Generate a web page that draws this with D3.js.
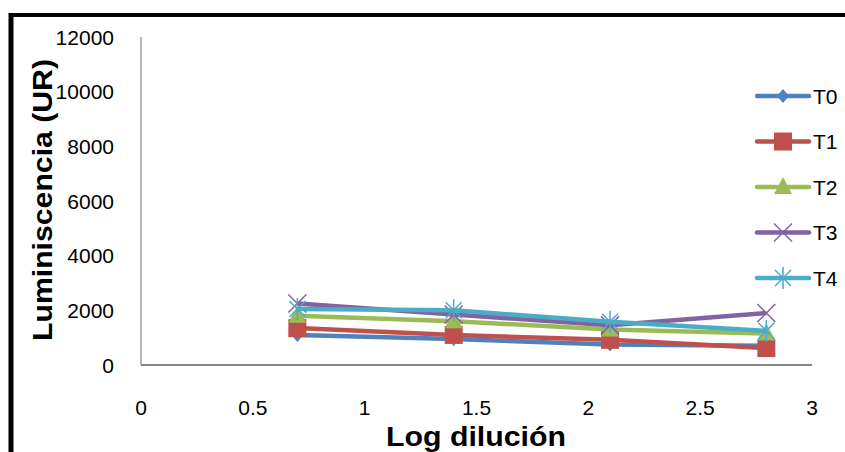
<!DOCTYPE html>
<html><head><meta charset="utf-8">
<script src="https://cdn.jsdelivr.net/npm/d3@7"></script>
<style>
html,body{margin:0;padding:0;background:#fff;}
text{font-family:"Liberation Sans",Arial,sans-serif;}
</style></head>
<body>
<svg id="c" width="845" height="452"></svg>
<script>
const xValues = [0.699, 1.398, 2.097, 2.796];
const seriesNames = ["T0","T1","T2","T3","T4"];
const T0 = [1100, 950, 750, 700];
const T1 = [1350, 1100, 920, 620];
const T2 = [1800, 1600, 1300, 1150];
const T3 = [2250, 1850, 1450, 1900];
const T4 = [2050, 2000, 1580, 1250];
const xTicks = [0, 0.5, 1, 1.5, 2, 2.5, 3];
const yTicks = [0, 2000, 4000, 6000, 8000, 10000, 12000];
const colors = ["#4F81BD","#C0504D","#9BBB59","#8064A2","#4BACC6"];
const markers = ["diamond","square","triangle","x","star"];
const series = [T0,T1,T2,T3,T4];

const svg = d3.select("#c");
// frame
svg.append("rect").attr("x",0).attr("y",0).attr("width",845).attr("height",452).attr("fill","#fff");
svg.append("line").attr("x1",9).attr("x2",845).attr("y1",15).attr("y2",15).attr("stroke","#000").attr("stroke-width",4);
svg.append("line").attr("x1",11).attr("x2",11).attr("y1",13).attr("y2",452).attr("stroke","#000").attr("stroke-width",5);

const x = d3.scaleLinear().domain([0,3]).range([141,812]);
const y = d3.scaleLinear().domain([0,12000]).range([365,37]);

// axes lines
svg.append("line").attr("x1",141).attr("x2",141).attr("y1",y(12000)).attr("y2",y(0)).attr("stroke","#868686").attr("stroke-width",1.2);
svg.append("line").attr("x1",141).attr("x2",x(3)).attr("y1",y(0)).attr("y2",y(0)).attr("stroke","#868686").attr("stroke-width",2);

// tick labels
svg.selectAll(".yt").data(yTicks).enter().append("text")
  .attr("x",114).attr("y",d=>y(d)).attr("dy","0.36em").attr("text-anchor","end")
  .attr("font-size",21).attr("fill","#000").text(d=>d);
svg.selectAll(".xt").data(xTicks).enter().append("text")
  .attr("x",d=>x(d)).attr("y",407).attr("dy","0.36em").attr("text-anchor","middle")
  .attr("font-size",21).attr("fill","#000").text(d=>d);

// titles
svg.append("text").attr("transform","translate(42,200) rotate(-90)").attr("text-anchor","middle")
  .attr("dy","0.36em").attr("font-size",27).attr("font-weight","bold")
  .attr("textLength",282).attr("lengthAdjust","spacingAndGlyphs").text("Luminiscencia (UR)");
svg.append("text").attr("x",476).attr("y",436).attr("text-anchor","middle")
  .attr("dy","0.36em").attr("font-size",27).attr("font-weight","bold")
  .attr("textLength",180).attr("lengthAdjust","spacingAndGlyphs").text("Log dilución");

function drawMarker(g, type, cx, cy, color){
  if(type==="diamond"){
    g.append("path").attr("d",`M${cx},${cy-7}L${cx+6},${cy}L${cx},${cy+7}L${cx-6},${cy}Z`).attr("fill",color);
  } else if(type==="square"){
    g.append("rect").attr("x",cx-9).attr("y",cy-9).attr("width",18).attr("height",18).attr("fill",color);
  } else if(type==="triangle"){
    g.append("path").attr("d",`M${cx},${cy-10}L${cx+9},${cy+7}L${cx-9},${cy+7}Z`).attr("fill",color);
  } else if(type==="x"){
    g.append("path").attr("d",`M${cx-9},${cy-9}L${cx+9},${cy+9}M${cx-9},${cy+9}L${cx+9},${cy-9}`).attr("stroke",color).attr("stroke-width",1.5).attr("fill","none");
  } else if(type==="star"){
    g.append("path").attr("d",`M${cx-8},${cy-8}L${cx+8},${cy+8}M${cx-8},${cy+8}L${cx+8},${cy-8}M${cx},${cy-11}L${cx},${cy+11}`).attr("stroke",color).attr("stroke-width",1.5).attr("fill","none");
  }
}

const line = d3.line().x((d,i)=>x(xValues[i])).y(d=>y(d));
series.forEach((s,k)=>{
  const g = svg.append("g");
  g.append("path").datum(s).attr("d",line).attr("fill","none").attr("stroke",colors[k]).attr("stroke-width",4.5).attr("stroke-linejoin","round");
  s.forEach((v,i)=>drawMarker(g, markers[k], x(xValues[i]), y(v), colors[k]));
});

// legend
const legY = d3.scalePoint().domain(seriesNames).range([96,278]);
seriesNames.forEach((n,k)=>{
  const g = svg.append("g");
  const yy = legY(n);
  g.append("line").attr("x1",757).attr("x2",809).attr("y1",yy).attr("y2",yy).attr("stroke",colors[k]).attr("stroke-width",4.5).attr("stroke-linecap","round");
  drawMarker(g, markers[k], 783, yy, colors[k]);
  g.append("text").attr("x",813).attr("y",yy).attr("dy","0.36em").attr("font-size",21).attr("fill","#000").text(n);
});
</script>
</body></html>
